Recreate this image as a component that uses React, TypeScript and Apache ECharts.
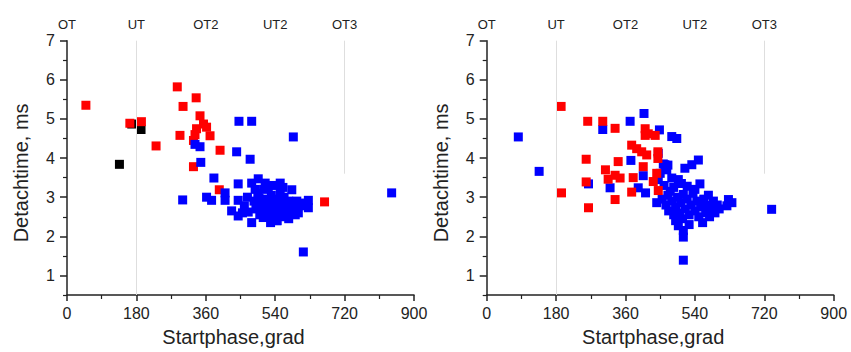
import React, { useEffect, useRef } from "react";
import * as echarts from "echarts";

// ---- data ----
const TOP_LABELS = ["OT", "UT", "OT2", "UT2", "OT3"];
const Y_TICKS = [1, 2, 3, 4, 5, 6, 7];
const Y_MINOR = [0.5, 1.5, 2.5, 3.5, 4.5, 5.5, 6.5];

const leftBlack = [
  [168, 4.87], [192, 4.73], [136, 3.84],
];

const leftRed = [
  [49, 5.35], [163, 4.89], [193, 4.93], [231, 4.31], [286, 5.82], [301, 5.32],
  [335, 5.54], [293, 4.58], [345, 5.08], [354, 4.87], [362, 4.79], [336, 4.75],
  [332, 4.6], [371, 4.57], [328, 4.45], [397, 4.2], [328, 3.78], [395, 3.19],
  [668, 2.88],
];

const leftBlue = [
  [446, 4.94], [479, 4.94], [587, 4.54], [332, 4.35], [345, 4.29], [440, 4.16],
  [475, 3.97], [347, 3.89], [381, 3.49], [300, 2.93], [362, 3.0], [375, 2.92],
  [410, 3.11], [410, 2.92], [444, 3.34], [444, 2.92], [427, 2.65], [444, 2.52],
  [479, 2.35], [479, 3.36], [496, 3.47], [514, 3.36], [553, 3.36], [583, 3.19],
  [553, 3.15], [626, 2.92], [626, 2.73], [613, 1.6], [544, 2.4], [509, 2.48],
  [842, 3.11],
  [460, 2.78], [470, 2.62], [485, 2.9], [490, 2.7], [495, 3.1], [500, 2.55],
  [505, 2.85], [510, 3.2], [512, 2.65], [518, 2.95], [520, 2.5], [525, 2.75],
  [530, 3.05], [532, 2.6], [538, 2.85], [540, 2.45], [545, 2.7], [548, 2.95],
  [552, 2.55], [556, 2.8], [560, 2.65], [563, 3.0], [566, 2.5], [570, 2.75],
  [575, 2.9], [578, 2.6], [585, 2.8], [590, 2.68], [596, 2.9], [600, 2.6],
  [605, 2.78], [612, 2.85], [498, 2.98], [488, 3.2], [468, 3.0], [455, 2.6],
  [535, 3.3], [522, 3.25], [560, 3.25], [528, 2.35], [545, 2.4], [575, 2.45],
  [592, 2.55],
];

const rightBlue = [
  [82, 4.54], [136, 3.66], [408, 5.14], [372, 4.94], [301, 4.73], [448, 4.72],
  [480, 4.55], [493, 4.5], [374, 3.94], [445, 4.12], [458, 3.85], [470, 3.82],
  [514, 3.74], [532, 3.83], [549, 3.95], [264, 3.34], [320, 3.24], [393, 3.24],
  [412, 3.11], [406, 3.55], [462, 3.83], [467, 3.7], [450, 3.61], [445, 3.45],
  [480, 3.49], [497, 3.45], [520, 3.28], [510, 3.07], [476, 3.15], [441, 2.86],
  [553, 3.34], [627, 2.94], [636, 2.86], [623, 2.78], [739, 2.69], [510, 1.39],
  [510, 1.98], [510, 2.15], [497, 2.27],
  [455, 2.95], [465, 2.8], [472, 2.65], [480, 2.9], [485, 2.55], [490, 2.75],
  [495, 3.0], [500, 2.6], [503, 2.85], [508, 2.45], [515, 2.7], [520, 2.95],
  [525, 2.55], [530, 2.8], [535, 3.1], [540, 2.65], [545, 2.9], [550, 2.5],
  [555, 2.75], [560, 2.35], [563, 2.95], [568, 2.6], [572, 2.8], [578, 2.5],
  [583, 2.7], [588, 2.9], [592, 2.6], [598, 2.8], [603, 2.7], [485, 3.25],
  [470, 3.05], [460, 3.3], [505, 3.35], [540, 3.2], [525, 2.3], [490, 2.4],
  [575, 3.05],
];

const rightRed = [
  [193, 5.32], [262, 4.94], [301, 4.94], [333, 4.76], [411, 4.75], [411, 4.58],
  [437, 4.58], [376, 4.33], [389, 4.24], [402, 4.16], [415, 4.08], [444, 4.16],
  [444, 3.99], [258, 3.97], [341, 3.91], [406, 3.78], [308, 3.7], [333, 3.56],
  [315, 3.46], [346, 3.49], [380, 3.5], [258, 3.39], [194, 3.11], [376, 3.13],
  [333, 2.94], [264, 2.73], [445, 3.17], [432, 3.4], [441, 3.61], [419, 4.62],
];

const FONT = "Liberation Sans, Arial, sans-serif";
const AXIS_COLOR = "#222";

export default function App() {
  const ref = useRef<HTMLDivElement>(null);

  useEffect(() => {
    if (!ref.current) return;
    const chart = echarts.init(ref.current, null, { renderer: "svg" });

    const grids = [
      { left: 67, top: 40.7, width: 347, height: 258 },
      { left: 486.7, top: 40.7, width: 347, height: 258 },
    ];

    const xAxis: any[] = [];
    const yAxis: any[] = [];
    grids.forEach((_, g) => {
      xAxis.push({
        type: "value",
        gridIndex: g,
        position: "bottom",
        min: 0,
        max: 900,
        interval: 180,
        axisLine: { show: true, onZero: false, lineStyle: { color: AXIS_COLOR, width: 1.5 } },
        axisTick: { show: true, inside: false, length: 6, lineStyle: { color: AXIS_COLOR, width: 1.5 } },
        minorTick: { show: true, splitNumber: 2, length: 4, lineStyle: { color: AXIS_COLOR, width: 1.2 } },
        axisLabel: { fontSize: 16, color: AXIS_COLOR, margin: 10, fontFamily: FONT },
        splitLine: { show: false },
        name: "Startphase,grad",
        nameLocation: "middle",
        nameGap: 32,
        nameTextStyle: { fontSize: 20, color: AXIS_COLOR, fontFamily: FONT, padding: [0, 14, 0, 0] },
      });
      xAxis.push({
        type: "value",
        gridIndex: g,
        position: "top",
        min: 0,
        max: 900,
        interval: 180,
        axisLine: { show: false },
        axisTick: { show: false },
        axisLabel: {
          fontSize: 13,
          color: AXIS_COLOR,
          margin: 10,
          fontFamily: FONT,
          formatter: (v: number) => TOP_LABELS[Math.round(v / 180)] ?? "",
        },
        splitLine: { show: false },
      });
      yAxis.push({
        type: "value",
        gridIndex: g,
        position: "left",
        offset: 0,
        min: 0.5,
        max: 7,
        interval: 0.5,
        axisLine: { show: true, onZero: false, lineStyle: { color: AXIS_COLOR, width: 1.5 } },
        axisTick: { show: true, length: 7, customValues: Y_TICKS, lineStyle: { color: AXIS_COLOR, width: 1.5 } },
        axisLabel: { fontSize: 16, color: AXIS_COLOR, margin: 12, fontFamily: FONT, customValues: Y_TICKS },
        splitLine: { show: false },
        name: "Detachtime, ms",
        nameLocation: "middle",
        nameGap: 36,
        nameTextStyle: { fontSize: 20, color: AXIS_COLOR, fontFamily: FONT, padding: [0, 10, 0, 0] },
      });
      yAxis.push({
        type: "value",
        gridIndex: g,
        position: "left",
        offset: 0,
        min: 0.5,
        max: 7,
        interval: 0.5,
        axisLine: { show: false },
        axisTick: { show: true, length: 4, customValues: Y_MINOR, lineStyle: { color: AXIS_COLOR, width: 1.2 } },
        axisLabel: { show: false },
        splitLine: { show: false },
      });
    });

    const refLines = {
      silent: true,
      symbol: ["none", "none"],
      label: { show: false },
      lineStyle: { color: "#dedede", width: 1, type: "solid" },
      data: [
        [{ coord: [180, 7] }, { coord: [180, 0.5] }],
        [{ coord: [720, 7] }, { coord: [720, 3.6] }],
      ],
    };

    const sc = (data: number[][], color: string, g: number, withLines = false) => ({
      type: "scatter",
      xAxisIndex: g * 2,
      yAxisIndex: g * 2,
      data,
      symbol: "rect",
      symbolSize: 9,
      itemStyle: { color, opacity: 1 },
      ...(withLines ? { markLine: refLines } : {}),
    });

    chart.setOption({
      animation: false,
      backgroundColor: "#ffffff",
      grid: grids,
      xAxis,
      yAxis,
      series: [
        sc(leftBlack, "#000000", 0, true),
        sc(leftRed, "#ff0000", 0),
        sc(leftBlue, "#0000ff", 0),
        sc(rightBlue, "#0000ff", 1, true),
        sc(rightRed, "#ff0000", 1),
      ],
    });

    return () => chart.dispose();
  }, []);

  return (
    <div
      ref={ref}
      style={{ position: "fixed", left: 0, top: 0, width: 851, height: 352 }}
    />
  );
}
